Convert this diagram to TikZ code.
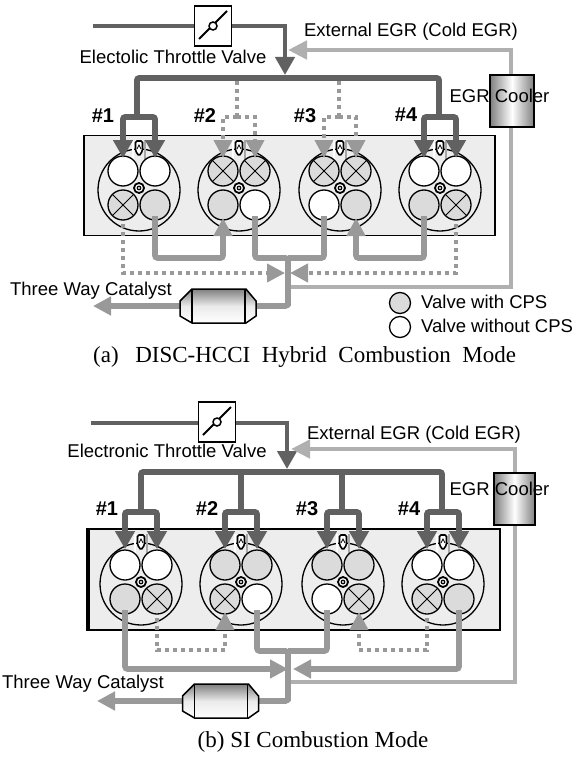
\documentclass[tikz,border=0pt]{standalone}
\usepackage{fontspec}
\setmainfont{Liberation Sans}
\newfontfamily\capfont{Liberation Serif}
\usetikzlibrary{arrows.meta,calc}
\definecolor{dk}{gray}{0.38}
\definecolor{ex}{gray}{0.6}
\definecolor{eg}{gray}{0.69}
\definecolor{vgr}{gray}{0.86}
\definecolor{blk}{gray}{0.93}
\tikzset{
  lab/.style={inner sep=0pt,font=\fontsize{18.5}{20}\selectfont,text=black},
  cyllab/.style={inner sep=0pt,font=\bfseries\fontsize{20}{21}\selectfont},
  caplab/.style={inner sep=0pt,font=\capfont\fontsize{23}{25}\selectfont},
  block/.style={draw=black,fill=blk,line width=1.4pt},
  cylbody/.style={circle,draw=black,fill=none,line width=1.3pt,minimum size=82pt,inner sep=0pt},
  valve/.style={circle,draw=black,line width=1.3pt,minimum size=30pt,inner sep=0pt},
  vw/.style={valve,fill=white},
  vg/.style={valve,fill=vgr},
  vx/.style={valve,fill=vgr,path picture={
     \draw[line width=.8pt] (path picture bounding box.north west)--(path picture bounding box.south east);
     \draw[line width=.8pt] (path picture bounding box.north east)--(path picture bounding box.south west);}},
  intake/.style={draw=dk,line width=4.3pt},
  mainp/.style={draw=dk,line width=5.6pt,rounded corners=2pt},
  exh/.style={draw=ex,line width=5.6pt,rounded corners=2.5pt},
  exdot/.style={draw=ex,line width=4pt,dash pattern=on 4pt off 4pt},
  egr/.style={draw=eg,line width=4.6pt},
  tipdk/.style={-{Triangle[length=18pt,width=19pt,fill=dk,color=dk]}},
  tipex/.style={-{Triangle[length=18pt,width=18pt,fill=ex,color=ex]}},
  tipeg/.style={-{Triangle[length=19pt,width=18pt,fill=eg,color=eg]}},
  boxthrottle/.style={draw=black,fill=white,line width=1.5pt,minimum width=37pt,minimum height=40pt,inner sep=0pt},
  boxcooler/.style={draw=black,line width=1.4pt,left color=black!50,right color=black!50,middle color=white,inner sep=0pt},
  catbody/.style={draw=black,line width=1.5pt,top color=black!50,bottom color=white,middle color=black!8},
}
% cylinder: name, cx, cy, four valve styles
\newcommand{\cylinder}[7]{%
  \begin{scope}[shift={(#2,#3)}]
    \node[cylbody] (#1c) at (0,0) {};
    \draw[black!35,line width=1.6pt] (6,-50) -- (6,-30);
    \draw[white,line width=1.6pt] (-6,-50) -- (-6,-30);
    \node[#4] (#1tl) at (-16,-19) {};
    \node[#5] (#1tr) at (16,-19) {};
    \node[#6] (#1bl) at (-16,15) {};
    \node[#7] (#1br) at (16,15) {};
    \node[circle,draw=black,fill=white,line width=1.8pt,minimum size=10pt,inner sep=0pt] (#1h) at (0,-2) {};
    \fill[black] (0,-2) circle (2.4pt);
    \fill[white] (0,-2) circle (1.1pt);
    \draw[black,fill=white,line width=1.6pt,rounded corners=1.5pt] (-3.5,-49) -- (3.5,-49) -- (3.5,-39) -- (0,-34) -- (-3.5,-39) -- cycle;
    \draw[black,line width=.8pt] (-2,-41) -- (0,-45) -- (2,-41);
  \end{scope}}
\newcommand{\throttlemark}[1]{%
  \draw[black,line width=2pt] ($(#1.center)+(-14,13)$) -- ($(#1.center)+(14,-15)$);
  \draw[black,fill=white,line width=1.5pt] (#1.center) circle (4pt);}
\newcommand{\catalystshape}[1]{%
  \path[catbody] ($(#1.center)+(-38,-5)$) -- ($(#1.center)+(-26,-17)$) -- ($(#1.center)+(28,-17)$) -- ($(#1.center)+(38,-5)$) -- ($(#1.center)+(38,10)$) -- ($(#1.center)+(28,17)$) -- ($(#1.center)+(-26,17)$) -- ($(#1.center)+(-38,10)$) -- cycle;
  \draw[black,line width=1.3pt] ($(#1.center)+(-26,-17)$) -- ($(#1.center)+(-26,17)$) ($(#1.center)+(27,-17)$) -- ($(#1.center)+(27,17)$);}
\begin{document}
\begin{tikzpicture}[x=1pt,y=-1pt]
\useasboundingbox (0,0) rectangle (573,757);
\fill[white] (0,0) rectangle (573,757);

% ---------- panel (a) ----------
\node[block,minimum width=411pt,minimum height=100pt,inner sep=0pt] (ablock) at (289.5,185.5) {};
\cylinder{a1}{139}{190}{vw}{vw}{vx}{vg}
\cylinder{a2}{239}{190}{vx}{vx}{vg}{vw}
\cylinder{a3}{340}{190}{vx}{vx}{vw}{vg}
\cylinder{a4}{440}{190}{vw}{vw}{vg}{vx}

\coordinate (ain) at (93,26);
\node[boxthrottle] (athr) at (213,26) {};
\coordinate (abend) at (285,26);
\coordinate (atip) at (285,75);
\coordinate (atl) at (137,78);
\coordinate (atr) at (439,78);
\coordinate (a1j) at (137,117);
\coordinate (a2j) at (237,117);
\coordinate (a3j) at (339,117);
\coordinate (a4j) at (439,117);
\coordinate (a2t) at (237,81);
\coordinate (a3t) at (339,81);
\draw[intake,tipdk] (ain) -- (abend) -- (atip);
\node[boxthrottle] at (athr) {};
\throttlemark{athr}
\draw[mainp] (a1j) -- (atl) -- (atr) -- (a4j);
\draw[exdot] (a2t) -- (a2j);
\draw[exdot] (a3t) -- (a3j);
\draw[mainp,tipdk] (a1j) -| ([yshift=13pt]a1tl.center);
\draw[mainp,tipdk] (a1j) -| ([yshift=13pt]a1tr.center);
\draw[mainp,tipdk] (a4j) -| ([yshift=13pt]a4tl.center);
\draw[mainp,tipdk] (a4j) -| ([yshift=13pt]a4tr.center);
\draw[exdot,tipex] (a2j) -| ([yshift=13pt]a2tl.center);
\draw[exdot,tipex] (a2j) -| ([yshift=13pt]a2tr.center);
\draw[exdot,tipex] (a3j) -| ([yshift=13pt]a3tl.center);
\draw[exdot,tipex] (a3j) -| ([yshift=13pt]a3tr.center);

\coordinate (aej) at (288,287);
\coordinate (aec) at (511,287);
\coordinate (aet) at (511,50);
\coordinate (aetip) at (288,50);
\draw[egr,tipeg] (aej) -- (aec) -- (aet) -- (aetip);
\node[boxcooler,minimum width=44pt,minimum height=52pt] (acool) at (512,101) {};

\coordinate (atj) at (288,258);
\coordinate (atb) at (288,306);
\coordinate (aout) at (93,306);
\coordinate (adl) at (285,273);
\coordinate (adr) at (290,273);
\node[inner sep=0pt,minimum width=76pt,minimum height=34pt] (acat) at (218,306) {};
\draw[exh,tipex] ([yshift=-11pt]a1br.center) |- (a2bl.center |- 0,258) -- ([yshift=-13pt]a2bl.center);
\draw[exh,tipex] ([yshift=-11pt]a4bl.center) |- (a3br.center |- 0,258) -- ([yshift=-13pt]a3br.center);
\draw[exh] ([yshift=-11pt]a2br.center) |- (atj) -- (atb);
\draw[exh] ([yshift=-11pt]a3bl.center) |- (atj);
\draw[exh,tipex] (atj) -- (atb) -- (aout);
\draw[exdot,tipex] ([yshift=-19pt]a1bl.center) |- (adl);
\draw[exdot,tipex] ([yshift=-19pt]a4br.center) |- (adr);
\catalystshape{acat}

\node[lab] (alab1) at (173,57) {Electolic Throttle Valve};
\node[lab] (alab2) at (411,32) {External EGR (Cold EGR)};
\node[lab] (alab3) at (499.5,96) {EGR Cooler};
\node[lab] (alab4) at (91,291) {Three Way Catalyst};
\node[cyllab] (an1) at (103,116) {\#1};
\node[cyllab] (an2) at (205,116) {\#2};
\node[cyllab] (an3) at (305,116) {\#3};
\node[cyllab] (an4) at (406,115) {\#4};
\node[valve,fill=vgr,minimum size=21pt] (aleg1) at (400,303) {};
\node[valve,fill=white,minimum size=21pt] (aleg2) at (400,327) {};
\node[lab,anchor=west] (alab5) at (421,302) {Valve with CPS};
\node[lab,anchor=west] (alab6) at (421,326) {Valve without CPS};
\node[caplab,anchor=west] (acap) at (93,357) {\spaceskip=.5em (a)\hspace{.72em}DISC-HCCI Hybrid Combustion Mode};

% ---------- panel (b) ----------
\node[block,minimum width=413pt,minimum height=101pt,inner sep=0pt] (bblock) at (293.5,579.5) {};
\draw[black,line width=1.5pt] (88.8,529) -- (88.8,630);
\cylinder{b1}{141}{584}{vw}{vw}{vg}{vx}
\cylinder{b2}{241}{584}{vg}{vg}{vx}{vw}
\cylinder{b3}{343}{584}{vg}{vg}{vw}{vx}
\cylinder{b4}{443}{584}{vw}{vw}{vx}{vg}

\coordinate (bin) at (91,423);
\node[boxthrottle] (bthr) at (217,422) {};
\coordinate (bbend) at (287,423);
\coordinate (btip) at (287,469);
\coordinate (btl) at (141,472);
\coordinate (btr) at (442,472);
\coordinate (b2t) at (241,472);
\coordinate (b3t) at (342,472);
\coordinate (b1j) at (141,512);
\coordinate (b2j) at (241,512);
\coordinate (b3j) at (342,512);
\coordinate (b4j) at (442,512);
\draw[intake,tipdk] (bin) -- (bbend) -- (btip);
\node[boxthrottle] at (bthr) {};
\throttlemark{bthr}
\draw[mainp] (b1j) -- (btl) -- (btr) -- (b4j);
\draw[mainp] (b2t) -- (b2j);
\draw[mainp] (b3t) -- (b3j);
\draw[mainp,tipdk] (b1j) -| ([yshift=16pt]b1tl.center);
\draw[mainp,tipdk] (b1j) -| ([yshift=16pt]b1tr.center);
\draw[mainp,tipdk] (b2j) -| ([yshift=16pt]b2tl.center);
\draw[mainp,tipdk] (b2j) -| ([yshift=16pt]b2tr.center);
\draw[mainp,tipdk] (b3j) -| ([yshift=16pt]b3tl.center);
\draw[mainp,tipdk] (b3j) -| ([yshift=16pt]b3tr.center);
\draw[mainp,tipdk] (b4j) -| ([yshift=16pt]b4tl.center);
\draw[mainp,tipdk] (b4j) -| ([yshift=16pt]b4tr.center);

\coordinate (bej) at (290,682);
\coordinate (bec) at (515,682);
\coordinate (bet) at (515,449);
\coordinate (betip) at (291,449);
\draw[egr,tipeg] (bej) -- (bec) -- (bet) -- (betip);
\node[boxcooler,minimum width=41pt,minimum height=52pt] (bcool) at (514.5,499) {};

\coordinate (btj) at (288,651);
\coordinate (btb) at (288,701);
\coordinate (bout) at (97,701);
\coordinate (bal) at (288,669);
\coordinate (bar) at (293,669);
\node[inner sep=0pt,minimum width=76pt,minimum height=36pt] (bcat) at (220.5,701) {};
\draw[exh,tipex] ([yshift=-11pt]b1bl.center) |- (bal);
\draw[exh,tipex] ([yshift=-11pt]b4br.center) |- (bar);
\draw[exh] ([yshift=-11pt]b2br.center) |- (btj) -- (btb);
\draw[exh] ([yshift=-11pt]b3bl.center) |- (btj);
\draw[exh,tipex] (btj) -- (btb) -- (bout);
\draw[exdot,tipex] ([yshift=-19pt]b1br.center) |- (b2bl.center |- 0,650) -- ([yshift=-13pt]b2bl.center);
\draw[exdot,tipex] ([yshift=-19pt]b4bl.center) |- (b3br.center |- 0,650) -- ([yshift=-13pt]b3br.center);
\catalystshape{bcat}

\node[lab] (blab1) at (167,451) {Electronic Throttle Valve};
\node[lab] (blab2) at (414,435) {External EGR (Cold EGR)};
\node[lab] (blab3) at (499.5,489) {EGR Cooler};
\node[lab] (blab4) at (83,684) {Three Way Catalyst};
\node[cyllab] (bn1) at (107,509) {\#1};
\node[cyllab] (bn2) at (207,509) {\#2};
\node[cyllab] (bn3) at (307,509) {\#3};
\node[cyllab] (bn4) at (409,509) {\#4};
\node[caplab] (bcap) at (313,742) {(b) SI Combustion Mode};
\end{tikzpicture}
\end{document}
